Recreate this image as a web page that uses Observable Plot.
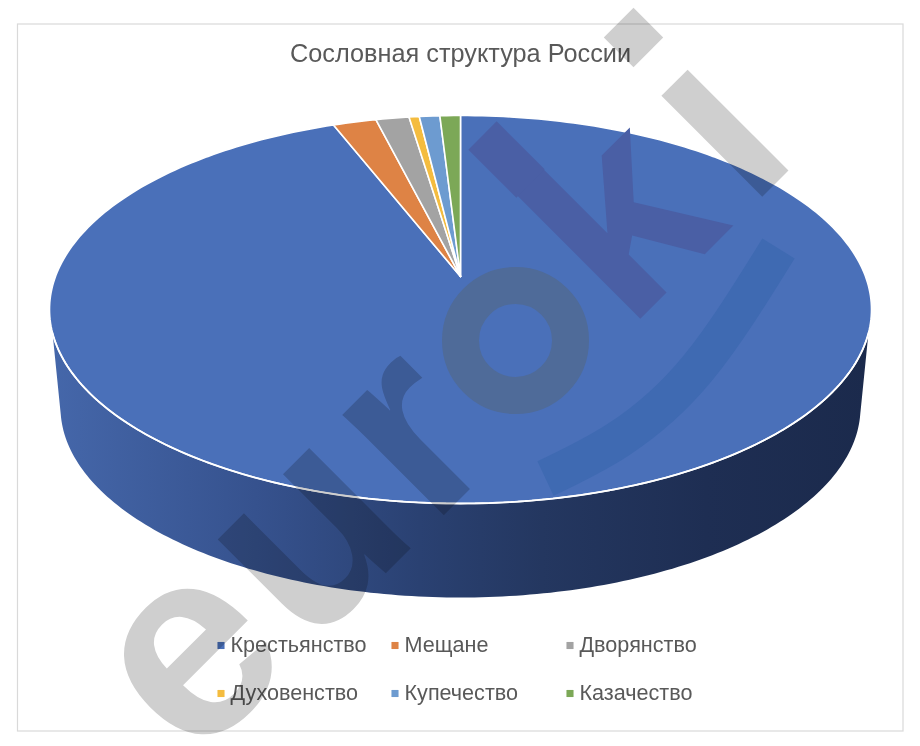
<!DOCTYPE html>
<html lang="ru">
<head>
<meta charset="utf-8">
<style>html,body{margin:0;padding:0;background:#fff;overflow:hidden}svg{display:block}</style>
<script src="https://cdn.jsdelivr.net/npm/d3@7"></script>
<script src="https://cdn.jsdelivr.net/npm/@observablehq/plot@0.6"></script>
</head>
<body>
<script>
const chartTitle = "Сословная структура России";
const categories = ["Крестьянство","Мещане","Дворянство","Духовенство","Купечество","Казачество"];
const shares = [95, 1.7, 1.3, 0.4, 0.8, 0.8];
const colors = ["#4a70b9","#de8345","#a3a3a3","#f4bc3f","#6d9bd0","#7ca857"];

const W = 920, H = 746;
const top3d = {cx:460, cy:309, rx:411, ry:194};
const base3d = {cx:460, cy:407, rx:400, ry:190};
const apex = {x:460, y:276}; // the pie's centre sits above the ellipse's centre in perspective
const rimAngle = 97; // degrees clockwise from 12 o'clock to where the side wall appears
const legendX = [217, 391, 566], legendY = [645, 693];

const pt = (e, deg) => {
  const a = deg * Math.PI / 180;
  return {x: e.cx + e.rx * Math.sin(a), y: e.cy - e.ry * Math.cos(a)};
};
const sum = d3.sum(shares);
let acc = 0;
const slicePts = [];
categories.forEach((c, i) => {
  const a0 = acc / sum * 360; acc += shares[i];
  const a1 = acc / sum * 360;
  const n = Math.max(2, Math.ceil(a1 - a0));
  const ring = [apex];
  for (let k = 0; k <= n; k++) ring.push(pt(top3d, a0 + (a1 - a0) * k / n));
  ring.push(apex);
  ring.forEach(p => slicePts.push({...p, c}));
});
const rim = d3.range(rimAngle, 360 - rimAngle + 0.5, 1).map(d => pt(top3d, d));
const wall = [...rim,
  ...d3.range(360 - 92, 91.5, -1).map(d => pt(base3d, d)),
  rim[0]];

// background mark of the picture
const markLetters = ["e","u","r","k","ı"];
const markFill = ["#cfcfcf","#cfcfcf","#cfcfcf","#4a5fa5","#cfcfcf"];
const markBlend = [true, true, true, false, true];
const markAdvance = {r: 175, k: 165 + 10 + 165 + 10 - 12};
const markSize = 270, markGap = 10, markOrigin = [193, 765];
const ctx = document.createElement("canvas").getContext("2d");
ctx.font = `700 ${markSize}px "Liberation Sans"`;
const slots = {e: 0};
slots.u = slots.e + ctx.measureText("e").width + markGap;
slots.r = slots.u + ctx.measureText("u").width + markGap;
const oSlot = slots.r + ctx.measureText("r").width + markGap;
slots.k = oSlot + ctx.measureText("o").width + markGap - 12;
slots["ı"] = oSlot + ctx.measureText("o").width + markGap + ctx.measureText("k").width + markGap;
const markGlyphs = markLetters.map((t, i) => ({
  t, fill: markFill[i], blend: markBlend[i],
  x: markOrigin[0] + slots[t] * Math.SQRT1_2, y: markOrigin[1] - slots[t] * Math.SQRT1_2
}));
const glyphOpts = {x: "x", y: "y", text: "t", rotate: -45, fontSize: markSize, fontWeight: 700,
  fontFamily: "Liberation Sans", textAnchor: "start", lineAnchor: "bottom"};
const markRing = [{x:515, y:340}];
const markDot = [{x:633, y:37}];
const markStem = [{x:530,y:183},{x:482,y:135}];
const markArc = [{x:545,y:478},{x:618,y:439},{x:697,y:368},{x:778,y:248}];

const legend = categories.map((c, i) => ({
  c, x: legendX[i % 3], y: legendY[Math.floor(i / 3)]
}));

const plot = Plot.plot({
  width: W, height: H, margin: 0,
  x: {domain: [0, W], range: [0, W], axis: null},
  y: {domain: [0, H], range: [0, H], axis: null},
  color: {domain: categories, range: colors},
  marks: [
    Plot.rect([0], {x1: () => 17.5, x2: () => 903, y1: () => 24, y2: () => 731, fill: "white", stroke: "#d9d9d9", strokeWidth: 1.2}),
    Plot.line(wall, {x: "x", y: "y", fill: "url(#wall)", stroke: "none", curve: "linear"}),
    Plot.line(slicePts, {x: "x", y: "y", z: "c", fill: "c", stroke: "white", strokeWidth: 1.6, strokeLinejoin: "miter", curve: "linear"}),
    Plot.line(rim, {x: "x", y: "y", stroke: "white", strokeWidth: 1.8, curve: "linear"}),
    Plot.text([chartTitle], {x: () => 460, y: () => 53, text: d => d, fontSize: 25.3, fill: "#595959", fontFamily: "Liberation Sans", textAnchor: "middle"}),
    Plot.dot(legend, {x: d => d.x + 3.5, y: "y", symbol: "square", r: 4, fill: "c", stroke: "none"}),
    Plot.text(legend, {x: d => d.x + 13, y: "y", text: "c", fontSize: 21.6, fill: "#595959", fontFamily: "Liberation Sans", textAnchor: "start"}),
    Plot.text(markGlyphs.filter(d => d.blend), {...glyphOpts, fill: d => d.fill, mixBlendMode: "multiply"}),
    Plot.dot(markDot, {x: "x", y: "y", symbol: "square", r: 23.7, rotate: 45, fill: "#cfcfcf", stroke: "none", mixBlendMode: "multiply"}),
    Plot.text(markGlyphs.filter(d => !d.blend), {...glyphOpts, fill: d => d.fill}),
    Plot.line(markStem, {x: "x", y: "y", stroke: "#4a5fa5", strokeWidth: 40, strokeLinecap: "butt"}),
    Plot.dot(markRing, {x: "x", y: "y", r: 55, fill: "none", stroke: "#4f6b99", strokeWidth: 37}),
    Plot.line(markArc, {x: "x", y: "y", stroke: "#3f6ab2", strokeWidth: 38, strokeLinecap: "butt", curve: "natural"})
  ]
});

const defs = d3.select(plot).insert("defs", ":first-child");
const g = defs.append("linearGradient").attr("id", "wall")
  .attr("gradientUnits", "userSpaceOnUse").attr("x1", 50).attr("x2", 870).attr("y1", 0).attr("y2", 0);
[[0, "#4567aa"], [0.25, "#36528e"], [0.45, "#2a4172"], [0.6, "#243760"], [0.8, "#1e2e53"], [1, "#1b2a4c"]]
  .forEach(([o, c]) => g.append("stop").attr("offset", o).attr("stop-color", c));
document.body.append(plot);
</script>
</body>
</html>
